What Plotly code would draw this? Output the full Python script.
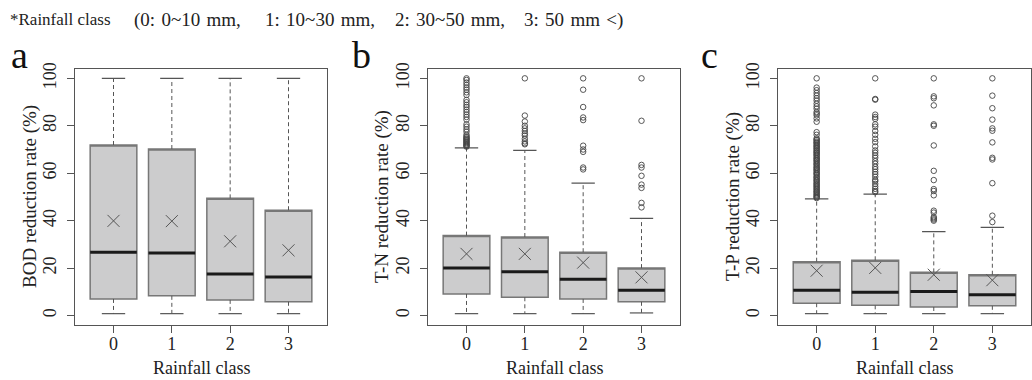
import plotly.graph_objects as go

W, H = 1032, 380

classes = [0, 1, 2, 3]
tick_labels = ["0", "1", "2", "3"]

# BOD
bod_q1 = [7.0, 8.3, 6.6, 5.8]
bod_med = [26.7, 26.4, 17.5, 16.3]
bod_q3 = [71.9, 70.2, 49.4, 44.4]
bod_low = [0.8, 0.8, 0.8, 0.8]
bod_high = [100, 100, 100, 100]
bod_mean = [39.9, 39.8, 31.3, 27.5]
bod_out = [[], [], [], []]

# T-N
tn_q1 = [9.1, 7.7, 7.0, 5.8]
tn_med = [20.0, 18.5, 15.3, 10.7]
tn_q3 = [33.7, 33.1, 26.7, 20.0]
tn_low = [0.8, 0.8, 0.8, 1.1]
tn_high = [70.7, 69.6, 55.8, 41.0]
tn_mean = [26.0, 26.0, 22.3, 16.1]
tn_out = [
    [100, 99.3, 98.2, 97.2, 96.1, 95.2, 94.1, 93.0, 90.9, 89.9, 88.8, 87.9, 86.8,
     85.8, 84.7, 83.7, 82.6, 80.6, 79.6, 78.5, 77.5, 76.2, 75.5, 75.1, 74.6, 74.3,
     73.9, 73.4, 73.1, 72.7, 72.2, 71.9, 71.5, 71.2],
    [100, 84.3, 81.8, 80.0, 78.9, 77.8, 76.7, 75.9, 74.5, 73.4, 72.6, 72.2],
    [100, 95.2, 87.9, 83.5, 82.4, 71.6, 70.0, 69.0, 62.4, 61.6],
    [100, 82.1, 63.5, 62.4, 58.9, 55.2, 53.8, 47.5, 45.6],
]

# T-P
tp_q1 = [5.2, 4.3, 3.6, 4.1]
tp_med = [10.7, 9.8, 10.1, 8.8]
tp_q3 = [22.7, 23.3, 18.2, 17.2]
tp_low = [0.8, 0.8, 0.8, 0.8]
tp_high = [49.2, 51.2, 35.4, 37.2]
tp_mean = [18.9, 20.1, 17.2, 14.9]
tp_out = [
    [100, 96.1, 95.0, 93.8, 92.7, 91.6, 90.6, 89.3, 88.2, 87.2, 85.8, 85.1, 84.4,
     83.1, 81.7, 77.3, 76.2, 74.7, 74.2, 73.9, 73.3, 72.9, 72.6, 72.0, 71.5, 71.2,
     70.6, 70.3, 69.7, 69.3, 68.8, 68.5, 67.9, 67.6, 67.0, 66.4, 66.1, 65.5, 65.2,
     64.6, 64.0, 63.7, 63.1, 62.5, 62.2, 61.6, 61.3, 60.7, 60.1, 59.8, 59.3, 58.6,
     58.2, 57.7, 57.1, 56.8, 56.2, 55.7, 55.3, 54.8, 54.4, 53.9, 53.4, 53.0, 52.4,
     52.1, 51.6, 51.1, 50.7, 50.2, 49.9, 49.5],
    [100, 91.3, 91.0, 84.7, 83.7, 82.9, 80.6, 79.6, 77.8, 76.2, 74.5, 73.1, 71.3,
     69.6, 68.6, 67.5, 66.5, 65.1, 64.0, 62.7, 61.7, 60.6, 59.6, 58.5, 57.2, 56.6,
     55.5, 54.4, 53.4, 52.5, 52.0],
    [100, 92.4, 91.6, 88.6, 80.6, 80.0, 71.7, 61.0, 57.1, 53.3, 52.5, 50.7, 44.2,
     43.4, 41.5, 41.0, 40.5, 40.0],
    [100, 92.7, 87.4, 82.6, 78.9, 77.9, 73.0, 66.5, 65.8, 55.8, 42.1, 39.4],
]

panels = [
    ("a", "BOD reduction rate (%)", bod_q1, bod_med, bod_q3, bod_low, bod_high, bod_mean, bod_out),
    ("b", "T-N reduction rate (%)", tn_q1, tn_med, tn_q3, tn_low, tn_high, tn_mean, tn_out),
    ("c", "T-P reduction rate (%)", tp_q1, tp_med, tp_q3, tp_low, tp_high, tp_mean, tp_out),
]

note_parts = ["*Rainfall class", "(0:\u20040~10\u2004mm,", "1:\u200410~30\u2004mm,",
              "2:\u200430~50\u2004mm,", "3:\u200450\u2004mm\u2004<)"]

# layout geometry (pixels)
x_doms_px = [(75, 327), (428, 680), (778, 1031)]
y_top_px, y_bot_px = 63, 324
ytitle_px = [30, 382, 733]
label_px = [(19, 49), (361, 49), (709, 49)]
note_x_px = [8, 132, 263, 393, 522]

FONT = "Liberation Serif, Times New Roman, serif"
TXT = "#222222"
FRAME = "#555555"
FILL = "#cccccd"
BOXLINE = "#777777"
WHISK = "#555555"

fig = go.Figure()
half_box = 0.4
half_cap = 0.2

for i, (lab, ytitle, q1, med, q3, low, high, mean, outs) in enumerate(panels):
    xa = "x" if i == 0 else f"x{i+1}"
    ya = "y" if i == 0 else f"y{i+1}"
    # box bodies
    fig.add_trace(go.Box(
        x=classes, q1=q1, median=q3, q3=q3, lowerfence=q1, upperfence=q3,
        width=2 * half_box, fillcolor=FILL, line=dict(color=BOXLINE, width=1.5),
        whiskerwidth=0, boxpoints=False, xaxis=xa, yaxis=ya, showlegend=False,
        hoverinfo="skip",
    ))
    # whiskers (dashed)
    wx, wy = [], []
    for c, a, b, lo, hi in zip(classes, q1, q3, low, high):
        wx += [c, c, None, c, c, None]
        wy += [b, hi, None, a, lo, None]
    fig.add_trace(go.Scatter(x=wx, y=wy, mode="lines", xaxis=xa, yaxis=ya,
                             line=dict(color=WHISK, width=1, dash="4px,3px"),
                             showlegend=False, hoverinfo="skip"))
    # caps
    cx, cy = [], []
    for c, lo, hi in zip(classes, low, high):
        cx += [c - half_cap, c + half_cap, None, c - half_cap, c + half_cap, None]
        cy += [hi, hi, None, lo, lo, None]
    fig.add_trace(go.Scatter(x=cx, y=cy, mode="lines", xaxis=xa, yaxis=ya,
                             line=dict(color=WHISK, width=1.2),
                             showlegend=False, hoverinfo="skip"))
    # medians
    mx, my = [], []
    for c, m in zip(classes, med):
        mx += [c - half_box, c + half_box, None]
        my += [m, m, None]
    fig.add_trace(go.Scatter(x=mx, y=my, mode="lines", xaxis=xa, yaxis=ya,
                             line=dict(color="#1a1a1a", width=3),
                             showlegend=False, hoverinfo="skip"))
    # means
    fig.add_trace(go.Scatter(x=classes, y=mean, mode="markers", xaxis=xa, yaxis=ya,
                             marker=dict(symbol="x-thin", size=12, color="#555555",
                                         line=dict(color="#555555", width=1)),
                             showlegend=False, hoverinfo="skip"))
    # outliers
    ox, oy = [], []
    for c, vals in zip(classes, outs):
        ox += [c] * len(vals)
        oy += vals
    if ox:
        fig.add_trace(go.Scatter(x=ox, y=oy, mode="markers", xaxis=xa, yaxis=ya,
                                 marker=dict(symbol="circle-open", size=5.5,
                                             color="#444444",
                                             line=dict(color="#444444", width=0.9)),
                                 showlegend=False, hoverinfo="skip"))

    x0, x1 = x_doms_px[i]
    axx = dict(domain=[x0 / W, x1 / W], range=[-0.66, 3.66], tickvals=classes,
               ticktext=tick_labels, ticks="outside", ticklen=7, tickcolor=FRAME,
               showline=True, mirror=True, linecolor=FRAME, linewidth=1,
               showgrid=False, zeroline=False, anchor=ya, ticklabelstandoff=-5,
               tickfont=dict(family=FONT, size=18, color=TXT))
    axy = dict(domain=[1 - y_bot_px / H, 1 - y_top_px / H], range=[-4, 104],
               tickvals=[0, 20, 40, 60, 80, 100], ticks="outside", ticklen=7,
               tickcolor=FRAME, tickangle=-90, showline=True, mirror=True,
               linecolor=FRAME, linewidth=1, showgrid=False, zeroline=False,
               anchor=xa, ticklabelstandoff=4,
               tickfont=dict(family=FONT, size=18, color=TXT))
    key = "" if i == 0 else str(i + 1)
    fig.update_layout(**{f"xaxis{key}": axx, f"yaxis{key}": axy})

    # axis titles
    fig.add_annotation(text="Rainfall class", xref="paper", yref="paper",
                       x=(x0 + x1) / 2 / W, y=1 - 368 / H, showarrow=False,
                       xanchor="center", yanchor="middle",
                       font=dict(family=FONT, size=18, color=TXT))
    fig.add_annotation(text=ytitle, xref="paper", yref="paper",
                       x=ytitle_px[i] / W, y=1 - 193.5 / H, showarrow=False,
                       textangle=-90, xanchor="center", yanchor="middle",
                       font=dict(family=FONT, size=19, color=TXT))
    lx, ly = label_px[i]
    fig.add_annotation(text=lab, xref="paper", yref="paper",
                       x=lx / W, y=1 - ly / H, showarrow=False,
                       xanchor="center", yanchor="middle",
                       font=dict(family=FONT, size=38, color="#111111"))

for j, (part, px) in enumerate(zip(note_parts, note_x_px)):
    fig.add_annotation(
        text=part, xref="paper", yref="paper", x=px / W, y=1 - 13 / H,
        showarrow=False, xanchor="left", yanchor="middle",
        font=dict(family=FONT, size=17 if j == 0 else 19, color=TXT))

fig.update_layout(width=W, height=H, margin=dict(l=0, r=0, t=0, b=0),
                  paper_bgcolor="white", plot_bgcolor="white", showlegend=False,
                  font=dict(family=FONT))

fig.write_html("out.html", config={"displayModeBar": False},
               post_script="document.body.style.margin='0px';document.body.style.padding='0px';")
